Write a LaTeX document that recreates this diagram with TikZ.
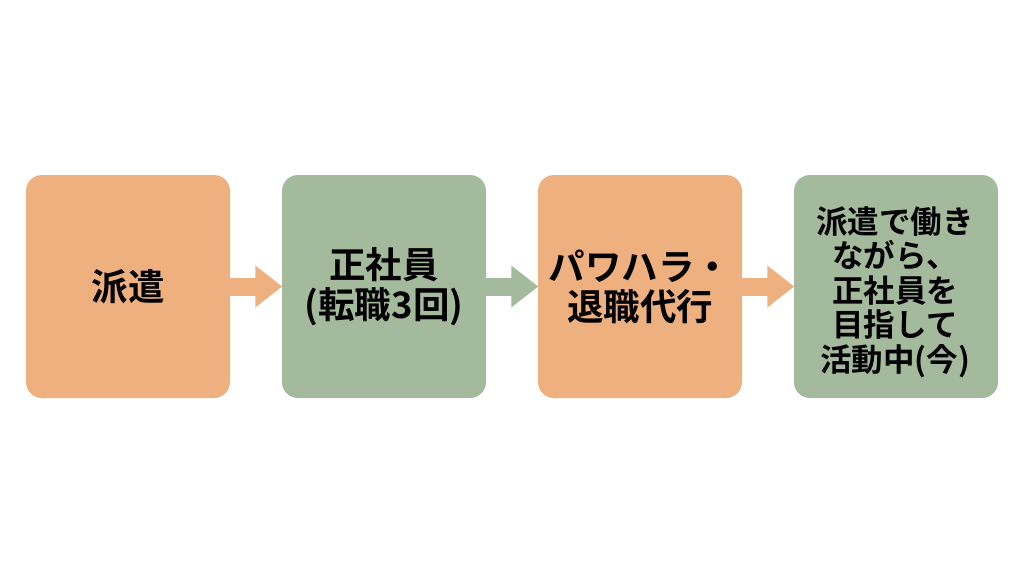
\documentclass[tikz,border=0pt]{standalone}
\usepackage{fontspec}
\setmainfont{Noto Sans CJK JP}[BoldFont={Noto Sans CJK JP Bold}]
\usetikzlibrary{arrows.meta}
\definecolor{boxorange}{HTML}{EFB07F}
\definecolor{boxgreen}{HTML}{A3BA9C}
\tikzset{
  box/.style={rounded corners=16pt, minimum width=204pt, minimum height=223pt, inner sep=0pt, align=center,
    font=\fontsize{36.5}{40}\selectfont\bfseries, text=black},
  flowarrow/.style={line width=18pt, -{Triangle[length=27pt,width=40pt]}, shorten >=-0.5pt}
}
\begin{document}
\begin{tikzpicture}[x=1pt,y=-1pt]
\useasboundingbox[fill=white] (0,0) rectangle (1024,576);
\node[box, fill=boxorange] (b1) at (128,286.5) {派遣};
\node[box, fill=boxgreen] (b2) at (384,286.5) {正社員\\(転職3回)};
\node[box, fill=boxorange] (b3) at (640,286.5) {パワハラ・\\退職代行};
\node[box, fill=boxgreen] (b4) at (896,286.5) {};
\node[font=\fontsize{31.5}{34.5}\selectfont\bfseries, align=center, inner sep=0pt] (t4) at (895,292) {派遣で働き\\ながら、\\正社員を\\目指して\\活動中(今)};
\draw[flowarrow, boxorange] (b1.east) -- (b2.west);
\draw[flowarrow, boxgreen] (b2.east) -- (b3.west);
\draw[flowarrow, boxorange] (b3.east) -- (b4.west);
\end{tikzpicture}
\end{document}
